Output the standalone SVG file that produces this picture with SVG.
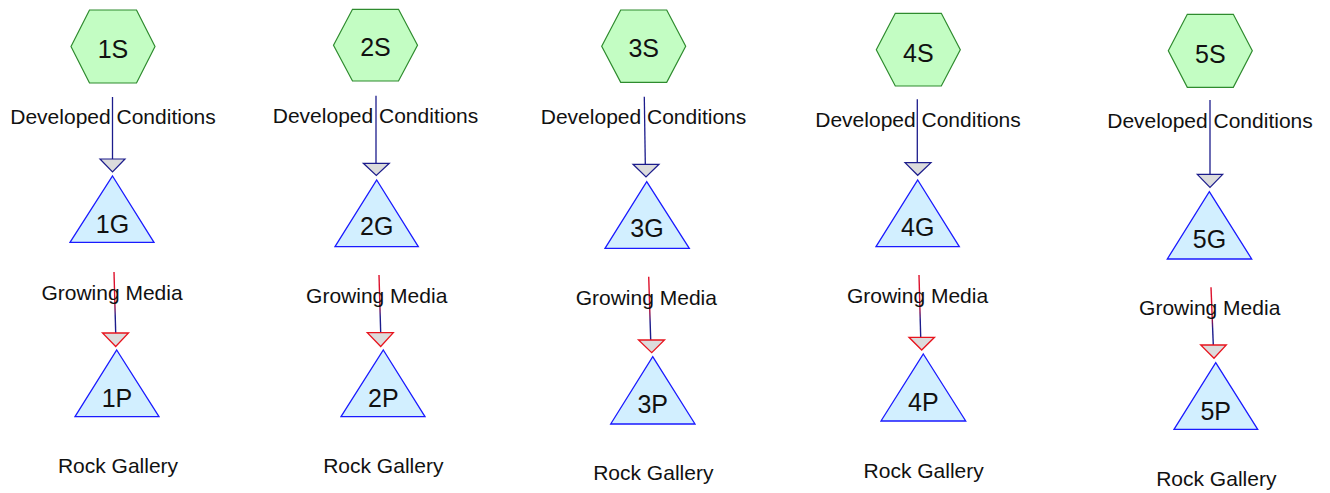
<svg xmlns="http://www.w3.org/2000/svg" width="1330" height="493" viewBox="0 0 1330 493">
<style>
.hex{fill:#c3fdc3;stroke:#2e8b2e;stroke-width:1.2}
.tri{fill:#d2efff;stroke:#1a1aff;stroke-width:1.3}
.lbl{font-family:"Liberation Sans",Arial,sans-serif;font-size:25px;fill:#111;text-anchor:middle}
.elbl{font-family:"Liberation Sans",Arial,sans-serif;font-size:21px;fill:#111;text-anchor:middle}
.l1{stroke:#1c1c8c;stroke-width:1.3;fill:none}
.l2{stroke:url(#rb);stroke-width:1.4;fill:none}
.a1{fill:#dcdcdc;stroke:#1c1c8c;stroke-width:1.2}
.a2{fill:#dcdcdc;stroke:#e8141e;stroke-width:1.3}
</style>
<defs>
<linearGradient id="rb" x1="0" y1="0" x2="0" y2="1">
<stop offset="0" stop-color="#e0102a"/>
<stop offset="0.5" stop-color="#d01030"/>
<stop offset="0.72" stop-color="#1c1c8c"/>
<stop offset="1" stop-color="#1c1c8c"/>
</linearGradient>
</defs>
<rect width="1330" height="493" fill="#fff"/>
<g id="connectors">
<path class="l1" d="M112.5 97V159"/>
<polygon class="a1" points="100,159 125,159 112.5,172"/>
<path class="l2" d="M114 272L115.7 333"/>
<polygon class="a2" points="102.5,333 128.5,333 115.7,346.5"/>
<path class="l1" d="M376 95.7V163.3"/>
<polygon class="a1" points="363.3,163.3 389.3,163.3 376.3,175.5"/>
<path class="l2" d="M379 275L380.7 332.7"/>
<polygon class="a2" points="367.3,332.7 393.3,332.7 380.7,346.5"/>
<path class="l1" d="M644.3 96.7L645.3 164.3"/>
<polygon class="a1" points="633,164.3 659,164.3 646,177"/>
<path class="l2" d="M648.7 276.7L650.7 340"/>
<polygon class="a2" points="638.5,340 664.5,340 651.7,352.7"/>
<path class="l1" d="M917.3 99.3V162.7"/>
<polygon class="a1" points="905,162.7 931,162.7 917.7,175.3"/>
<path class="l2" d="M919 275L920.7 337.3"/>
<polygon class="a2" points="909,337.3 934.5,337.3 921.7,350"/>
<path class="l1" d="M1210 100V174.3"/>
<polygon class="a1" points="1197.3,174.3 1222.7,174.3 1210,187.3"/>
<path class="l2" d="M1211 287.3L1213.3 345"/>
<polygon class="a2" points="1200.7,345 1226.3,345 1214,358.3"/>
<text class="elbl" x="113" y="124">Developed Conditions</text>
<text class="elbl" x="112" y="300">Growing Media</text>
<text class="elbl" x="375.5" y="123">Developed Conditions</text>
<text class="elbl" x="376.7" y="303">Growing Media</text>
<text class="elbl" x="643.5" y="124">Developed Conditions</text>
<text class="elbl" x="646.3" y="305">Growing Media</text>
<text class="elbl" x="918" y="126.7">Developed Conditions</text>
<text class="elbl" x="917.5" y="303.3">Growing Media</text>
<text class="elbl" x="1210" y="128.3">Developed Conditions</text>
<text class="elbl" x="1209.7" y="315">Growing Media</text>
</g>
<g id="n1S"><polygon class="hex" points="71,46.5 89.5,10 136.5,10 155,46.5 136.5,83 89.5,83"/><text class="lbl" x="113" y="57.5">1S</text></g>
<g id="n1G"><polygon class="tri" points="112.5,176 154,242.3 70,242.3"/><text class="lbl" x="112.5" y="233">1G</text></g>
<g id="n1P"><polygon class="tri" points="116.7,350 159,416.7 75,416.7"/><text class="lbl" x="117" y="406.7">1P</text></g>
<g id="n1R"><text class="elbl" x="118" y="473">Rock Gallery</text></g>

<g id="n2S"><polygon class="hex" points="333.5,45.2 352.5,9.3 398.5,9.3 417.5,45.2 398.5,81 352.5,81"/><text class="lbl" x="375.5" y="56">2S</text></g>
<g id="n2G"><polygon class="tri" points="376.7,180 418.3,246.7 335,246.7"/><text class="lbl" x="376.7" y="235">2G</text></g>
<g id="n2P"><polygon class="tri" points="383.3,350 425,416.7 341,416.7"/><text class="lbl" x="383.3" y="406.7">2P</text></g>
<g id="n2R"><text class="elbl" x="383.3" y="473">Rock Gallery</text></g>

<g id="n3S"><polygon class="hex" points="601.7,46.2 620.7,10 666.7,10 685.7,46.2 666.7,82.3 620.7,82.3"/><text class="lbl" x="643.7" y="57.3">3S</text></g>
<g id="n3G"><polygon class="tri" points="646.7,181.7 689.3,248.3 605,248.3"/><text class="lbl" x="647" y="236.7">3G</text></g>
<g id="n3P"><polygon class="tri" points="652.7,356.7 695,424 610.7,424"/><text class="lbl" x="652.7" y="413.3">3P</text></g>
<g id="n3R"><text class="elbl" x="653.3" y="480">Rock Gallery</text></g>

<g id="n4S"><polygon class="hex" points="876.3,49.7 895.3,13.3 941.3,13.3 960.3,49.7 941.3,86 895.3,86"/><text class="lbl" x="918.3" y="61.7">4S</text></g>
<g id="n4G"><polygon class="tri" points="917.7,180 959.3,246.7 876,246.7"/><text class="lbl" x="917.7" y="235.5">4G</text></g>
<g id="n4P"><polygon class="tri" points="923.3,354 965.7,421 881,421"/><text class="lbl" x="923.3" y="411">4P</text></g>
<g id="n4R"><text class="elbl" x="923.7" y="478.3">Rock Gallery</text></g>

<g id="n5S"><polygon class="hex" points="1168.3,50.8 1187.3,14.3 1233.3,14.3 1252.3,50.8 1233.3,87.3 1187.3,87.3"/><text class="lbl" x="1210.3" y="62.7">5S</text></g>
<g id="n5G"><polygon class="tri" points="1209.3,191.7 1251.7,259 1167.3,259"/><text class="lbl" x="1209.5" y="248.3">5G</text></g>
<g id="n5P"><polygon class="tri" points="1215.7,362.7 1257.7,429.3 1174,429.3"/><text class="lbl" x="1215.7" y="420">5P</text></g>
<g id="n5R"><text class="elbl" x="1216.3" y="486">Rock Gallery</text></g>
</svg>
